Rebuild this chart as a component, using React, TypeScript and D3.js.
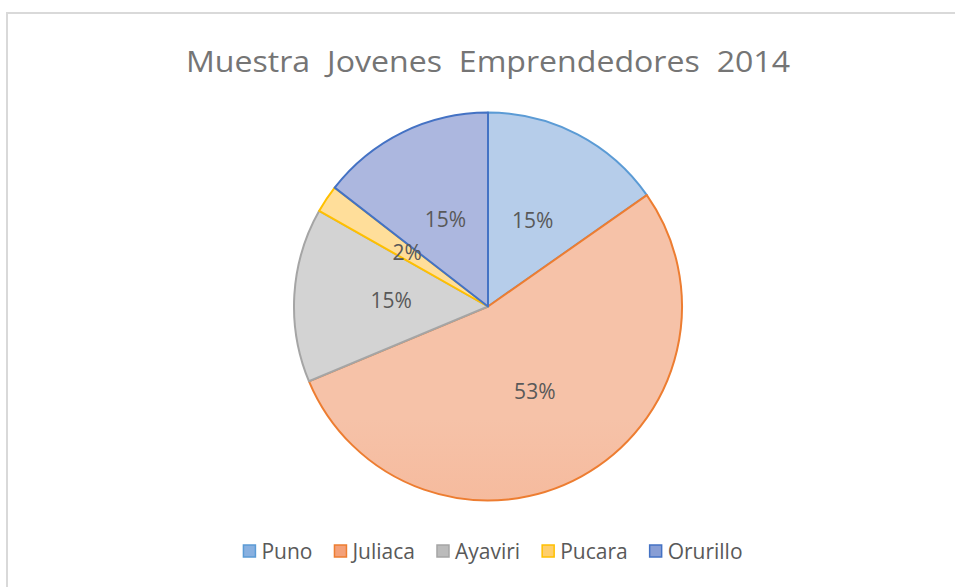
import React, { useEffect, useRef } from "react";
import * as d3 from "d3";

const TITLE = "Muestra Jovenes Emprendedores 2014";
const categories = ["Puno", "Juliaca", "Ayaviri", "Pucara", "Orurillo"];
const values = [20, 70, 19, 3, 19];
const strokeColors = ["#5b9bd5", "#ed7d31", "#a5a5a5", "#ffc000", "#4472c4"];
const topColors = ["#b6cdea", "#f6c2a8", "#d3d3d3", "#ffde9a", "#acb7df"];
const bottomColors = ["#88b0e0", "#f4a078", "#bbbbbb", "#ffcf6c", "#889ed5"];

const W = 955;
const H = 587;

export default function App() {
  const ref = useRef<SVGSVGElement | null>(null);

  useEffect(() => {
    const svg = d3.select(ref.current);
    svg.selectAll("*").remove();

    const cx = 488;
    const cy = 306.5;
    const r = 194;
    const font = "'Open Sans', 'DejaVu Sans', sans-serif";

    svg.append("rect").attr("width", W).attr("height", H).attr("fill", "#ffffff");
    svg.append("path")
      .attr("d", `M7,${H} L7,13 L${W},13`)
      .attr("fill", "none")
      .attr("stroke", "#d9d9d9")
      .attr("stroke-width", 2);

    const title = svg.append("text")
      .attr("x", cx)
      .attr("y", 72)
      .attr("text-anchor", "middle")
      .attr("font-family", font)
      .attr("font-size", 30)
      .attr("fill", "#757575")
      .text(TITLE);
    const tw = (title.node() as SVGTextElement).getComputedTextLength();
    const words = TITLE.split(" ").length - 1;
    const target = 604;
    if (tw < target - 40) {
      title.attr("word-spacing", Math.min(8, (target - tw) / words));
      const tw2 = (title.node() as SVGTextElement).getComputedTextLength();
      if (Math.abs(tw2 - target) > 4) title.attr("textLength", target).attr("lengthAdjust", "spacingAndGlyphs");
    } else if (Math.abs(tw - target) > 4) {
      title.attr("textLength", target).attr("lengthAdjust", "spacingAndGlyphs");
    }

    const defs = svg.append("defs");
    categories.forEach((c, i) => {
      const g = defs.append("linearGradient")
        .attr("id", `grad${i}`)
        .attr("gradientUnits", "userSpaceOnUse")
        .attr("x1", 0).attr("x2", 0)
        .attr("y1", cy - r).attr("y2", cy + r);
      g.append("stop").attr("offset", "0%").attr("stop-color", topColors[i]);
      g.append("stop").attr("offset", "100%").attr("stop-color", bottomColors[i]);
    });

    const total = d3.sum(values);
    const pie = d3.pie<number>().sort(null).value((d) => d);
    const arcs = pie(values);
    const arc = d3.arc<d3.PieArcDatum<number>>().innerRadius(0).outerRadius(r);
    const labelArc = d3.arc<d3.PieArcDatum<number>>().innerRadius(r * 0.5).outerRadius(r * 0.5);

    const g = svg.append("g").attr("transform", `translate(${cx},${cy})`);
    g.selectAll("path.slice")
      .data(arcs)
      .join("path")
      .attr("class", "slice")
      .attr("d", arc as any)
      .attr("fill", (_d, i) => `url(#grad${i})`)
      .attr("stroke", (_d, i) => strokeColors[i])
      .attr("stroke-width", 2)
      .attr("stroke-linejoin", "round");

    g.selectAll("text.lbl")
      .data(arcs)
      .join("text")
      .attr("class", "lbl")
      .attr("transform", (d) => {
        const [x, y] = labelArc.centroid(d);
        return `translate(${x},${y})`;
      })
      .attr("text-anchor", "middle")
      .attr("dy", "0.36em")
      .attr("font-family", font)
      .attr("font-size", 21)
      .attr("fill", "#595959")
      .text((d) => `${Math.round((d.data / total) * 100)}%`);

    const lg = svg.append("g");
    const fs = 21;
    const sq = 12;
    const gapSq = 6;
    const gapItem = 22;
    const items = categories.map((c, i) => {
      const t = lg.append("text")
        .attr("font-family", font)
        .attr("font-size", fs)
        .attr("fill", "#595959")
        .text(c);
      const w = (t.node() as SVGTextElement).getComputedTextLength();
      return { t, w, i };
    });
    const totalW = d3.sum(items, (it) => sq + gapSq + it.w) + gapItem * (items.length - 1);
    let x = 493 - totalW / 2;
    const ly = 551;
    items.forEach((it) => {
      lg.append("rect")
        .attr("x", x)
        .attr("y", ly - sq / 2)
        .attr("width", sq)
        .attr("height", sq)
        .attr("fill", `url(#grad${it.i})`)
        .attr("stroke", strokeColors[it.i])
        .attr("stroke-width", 1.5);
      it.t.attr("x", x + sq + gapSq).attr("y", ly).attr("dy", "0.36em");
      x += sq + gapSq + it.w + gapItem;
    });
  }, []);

  return (
    <svg
      ref={ref}
      width={W}
      height={H}
      style={{ position: "absolute", left: 0, top: 0, display: "block" }}
    />
  );
}
